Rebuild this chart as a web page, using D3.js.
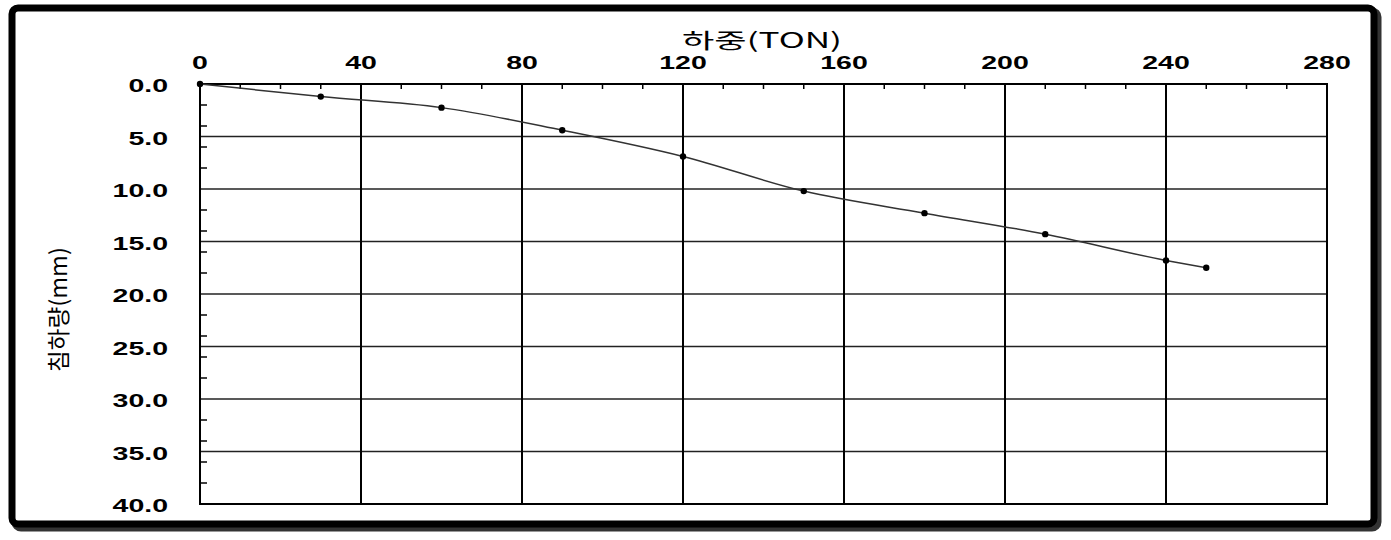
<!DOCTYPE html>
<html>
<head>
<meta charset="utf-8">
<script src="https://cdn.jsdelivr.net/npm/d3@7"></script>
<style>
  body { margin: 0; background: #fff; }
  svg { display: block; }
</style>
</head>
<body>
<svg width="1391" height="540"></svg>
<script>
// Data
const loads = [0, 30, 60, 90, 120, 150, 180, 210, 240, 250]           // 하중 (TON)
const settlements = [0, 1.2, 2.25, 4.4, 6.9, 10.2, 12.3, 14.3, 16.8, 17.5] // 침하량 (mm)
const xTicks = [0, 40, 80, 120, 160, 200, 240, 280]
const yTicks = [0, 5, 10, 15, 20, 25, 30, 35, 40]

const svg = d3.select("svg")

// Outer frame with a little shadow on the right/bottom
svg.append("rect")
    .attr("x", 15).attr("y", 11).attr("width", 1363).attr("height", 517)
    .attr("rx", 6)
    .attr("fill", "none").attr("stroke", "#333").attr("stroke-width", 7)
svg.append("rect")
    .attr("x", 12).attr("y", 8).attr("width", 1362).attr("height", 516)
    .attr("rx", 6)
    .attr("fill", "#fff").attr("stroke", "#000").attr("stroke-width", 7)

// Scales
const x = d3.scaleLinear().domain([0, 280]).range([200, 1327])
const y = d3.scaleLinear().domain([0, 40]).range([84, 504])

const g = svg.append("g")

// Horizontal grid (every 5 mm)
g.selectAll(".hgrid")
    .data(yTicks)
    .join("line")
    .attr("x1", x(0)).attr("x2", x(280))
    .attr("y1", d => y(d)).attr("y2", d => y(d))
    .attr("stroke", "#222").attr("stroke-width", 1.5)

// Vertical grid (every 40 TON)
g.selectAll(".vgrid")
    .data(xTicks)
    .join("line")
    .attr("x1", d => x(d)).attr("x2", d => x(d))
    .attr("y1", y(0)).attr("y2", y(40))
    .attr("stroke", "#000").attr("stroke-width", 2)

// Minor ticks on top axis (every 10 TON) pointing down
g.selectAll(".xminor")
    .data(d3.range(10, 280, 10).filter(d => d % 40 !== 0))
    .join("line")
    .attr("x1", d => x(d)).attr("x2", d => x(d))
    .attr("y1", y(0)).attr("y2", y(0) + 5)
    .attr("stroke", "#000").attr("stroke-width", 1.5)

// Minor ticks on left axis (every 2 mm) pointing right
g.selectAll(".yminor")
    .data(d3.range(2, 40, 2).filter(d => d % 5 !== 0))
    .join("line")
    .attr("x1", x(0)).attr("x2", x(0) + 7)
    .attr("y1", d => y(d)).attr("y2", d => y(d))
    .attr("stroke", "#000").attr("stroke-width", 1.5)

// Plot border
g.append("rect")
    .attr("x", x(0)).attr("y", y(0))
    .attr("width", x(280) - x(0)).attr("height", y(40) - y(0))
    .attr("fill", "none").attr("stroke", "#000").attr("stroke-width", 2)

// Tick labels (the original font is wide, so stretch horizontally)
svg.selectAll(".xlab")
    .data(xTicks)
    .join("text")
    .attr("transform", d => `translate(${x(d)},69) scale(1.5,1)`)
    .attr("text-anchor", "middle")
    .attr("font-family", "Liberation Sans, Arial, sans-serif")
    .attr("font-weight", "bold").attr("font-size", 19)
    .text(d => d)

svg.selectAll(".ylab")
    .data(yTicks)
    .join("text")
    .attr("transform", d => `translate(168,${y(d) + 8}) scale(1.5,1)`)
    .attr("text-anchor", "end")
    .attr("font-family", "Liberation Sans, Arial, sans-serif")
    .attr("font-weight", "bold").attr("font-size", 19)
    .text(d => d.toFixed(1))

// Axis titles
svg.append("text")
    .attr("x", 682).attr("y", 48)
    .attr("textLength", 160).attr("lengthAdjust", "spacingAndGlyphs")
    .attr("font-family", "Noto Sans CJK KR, sans-serif")
    .attr("font-size", 21)
    .text("하중(TON)")

svg.append("text")
    .attr("transform", "translate(67,372) rotate(-90)")
    .attr("textLength", 125).attr("lengthAdjust", "spacingAndGlyphs")
    .attr("font-family", "Noto Sans CJK KR, sans-serif")
    .attr("font-size", 23)
    .text("침하량(mm)")

// Curve
const pts = loads.map((d, i) => [d, settlements[i]])
svg.append("path")
    .datum(pts)
    .attr("fill", "none")
    .attr("stroke", "#333").attr("stroke-width", 1.5)
    .attr("d", d3.line().x(d => x(d[0])).y(d => y(d[1])).curve(d3.curveMonotoneX))

svg.selectAll(".pt")
    .data(pts)
    .join("circle")
    .attr("cx", d => x(d[0])).attr("cy", d => y(d[1]))
    .attr("r", 3.2)
    .attr("fill", "#000")
</script>
</body>
</html>
